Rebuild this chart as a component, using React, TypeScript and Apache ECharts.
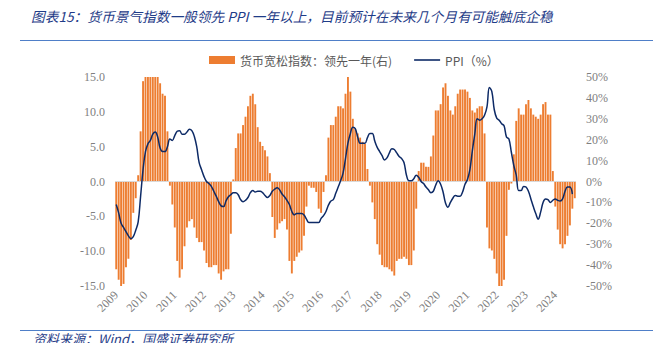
import React, { useEffect, useRef } from "react";
import * as echarts from "echarts";

// PPI YoY (%), 2009-01 .. 2024-08 (left axis)
const PPI: (number | null)[] = [
  -3.3, -4.5, -6.0, -6.6, -7.2, -7.8, -8.2, -7.9, -7.0, -5.8, -2.1, 1.7,
  4.3, 5.4, 5.9, 6.8, 7.1, 6.4, 4.8, 4.3, 4.3, 5.0, 6.1, 5.9,
  6.6, 7.2, 7.3, 6.8, 6.8, 7.1, 7.5, 7.3, 6.5, 5.0, 2.7, 1.7,
  0.7, 0.0, -0.3, -0.7, -1.4, -2.1, -2.9, -3.5, -3.6, -2.8, -2.2, -1.9,
  -1.6, -1.6, -1.9, -2.6, -2.9, -2.7, -2.3, -1.6, -1.3, -1.5, -1.4, -1.4,
  -1.6, -2.0, -2.3, -2.0, -1.4, -1.1, -0.9, -1.2, -1.8, -2.2, -2.7, -3.3,
  -4.3, -4.8, -4.6, -4.6, -4.6, -4.8, -5.4, -5.9, -5.9, -5.9, -5.9, -5.9,
  -5.3, -4.9, -4.3, -3.4, -2.8, -2.6, -1.7, -0.8, 0.1, 1.2, 3.3, 5.5,
  6.9, 7.8, 7.6, 6.4, 5.5, 5.5, 5.5, 6.3, 6.9, 6.9, 5.8, 4.9,
  4.3, 3.7, 3.1, 3.4, 4.1, 4.7, 4.6, 4.1, 3.6, 3.3, 2.7, 0.9,
  0.1, 0.1, 0.4, 0.9, 0.6, 0.0, -0.3, -0.8, -1.2, -1.6, -1.4, -0.5,
  0.1, -0.4, -1.5, -3.1, -3.7, -3.0, -2.4, -2.0, -2.1, -2.1, -1.5, -0.4,
  0.3, 1.7, 4.4, 6.8, 9.0, 8.8, 9.0, 9.5, 10.7, 13.5, 12.9, 10.3,
  9.1, 8.8, 8.3, 8.0, 6.4, 6.1, 4.2, 2.3, 0.9, -1.3, -1.3, -0.7,
  -0.8, -1.4, -2.5, -3.6, -4.6, -5.4, -4.4, -3.0, -2.5, -2.6, -3.0, -2.7,
  -2.5, -2.7, -2.8, -2.5, -1.4, -0.8, -0.8, -1.8,
];

// 货币宽松指数：领先一年 (%), 2009-01 .. 2024-09 (right axis)
const MONEY_INDEX: number[] = [
  -42, -47, -50, -49, -41, -37, -28, -15, -8, 3, 24, 48,
  50, 50, 50, 50, 50, 50, 47, 42, 41, 24, -2, -11,
  -22, -38, -46, -42, -31, -22, -19, -18, -22, -27, -29, -29,
  -33, -39, -41, -41, -40, -40, -44, -47, -43, -42, -42, -25,
  1, 16, 23, 23, 27, 31, 36, 41, 42, 37, 26, 19,
  17, 15, 12, 4, -17, -27, -23, -20, -19, -18, -23, -38,
  -44, -38, -36, -34, -33, -26, -12, -2, -3, -3, -5, -13,
  -15, -5, 3, 21, 27, 27, 31, 36, 36, 35, 42, 50,
  43, 30, 25, 23, 21, 19, 18, 6, -2, -10, -18, -30,
  -35, -40, -41, -41, -42, -43, -45, -38, -37, -37, -36, -37,
  -40, -40, -33, -13, 5, 9, 9, 7, 7, 12, 22, 34,
  34, 37, 45, 47, 41, 34, 32, 36, 42, 44, 44, 44,
  43, 40, 34, 33, 35, 36, 36, 23, -22, -32, -33, -37,
  -44, -50, -50, -47, -26, -4, -1, 13, 29, 35, 32, 32,
  37, 39, 35, 32, 31, 30, 32, 37, 38, 32, 32, 5,
  -12, -23, -30, -32, -30, -26, -21, -13, -8,
];

const START_YEAR = 2009;
const CATEGORIES: string[] = MONEY_INDEX.map((_, i) => {
  const y = START_YEAR + Math.floor(i / 12);
  const m = (i % 12) + 1;
  return `${y}-${m < 10 ? "0" + m : m}`;
});

const LEFT_TICKS = { min: -15, max: 15, interval: 5 };
const RIGHT_TICKS = { min: -50, max: 50, interval: 10 };

const TITLE = "图表15：货币景气指数一般领先 PPI 一年以上，目前预计在未来几个月有可能触底企稳";
const SOURCE = "资料来源：Wind，国盛证券研究所";
const BAR_NAME = "货币宽松指数：领先一年(右)";
const LINE_NAME = "PPI（%）";

export default function App() {
  const ref = useRef<HTMLDivElement>(null);
  useEffect(() => {
    if (!ref.current) return;
    const chart = echarts.init(ref.current, null, { renderer: "svg" });
    const axisFont = {
      color: "#7f7f7f",
      fontSize: 12,
      fontFamily: "Liberation Serif, Times New Roman, serif",
    };
    chart.setOption({
      animation: false,
      backgroundColor: "#ffffff",
      grid: { left: 115, right: 85, top: 77, bottom: 65, containLabel: false },
      legend: {
        left: 204,
        top: 49,
        itemWidth: 26,
        itemHeight: 8,
        itemGap: 22,
        symbolKeepAspect: true,
        textStyle: {
          color: "#595959",
          fontSize: 12,
          fontFamily: "Noto Sans CJK SC, sans-serif",
        },
        data: [
          { name: BAR_NAME, icon: "rect" },
          { name: LINE_NAME, icon: "path://M0,0H26V1.6H0Z" },
        ],
      },
      xAxis: {
        type: "category",
        data: CATEGORIES,
        boundaryGap: true,
        axisLine: { show: false, onZero: false },
        axisTick: { show: false },
        axisLabel: {
          ...axisFont,
          rotate: 45,
          margin: 7,
          interval: (index: number) => index % 12 === 0,
          formatter: (v: string) => v.slice(0, 4),
        },
        splitLine: { show: false },
      },
      yAxis: [
        {
          type: "value",
          ...LEFT_TICKS,
          position: "left",
          axisLine: { show: false },
          axisTick: { show: false },
          splitLine: { show: false },
          axisLabel: {
            ...axisFont,
            margin: 10,
            formatter: (v: number) => v.toFixed(1),
          },
        },
        {
          type: "value",
          ...RIGHT_TICKS,
          position: "right",
          axisLine: { show: false },
          axisTick: { show: false },
          splitLine: { show: false },
          axisLabel: {
            ...axisFont,
            margin: 10,
            formatter: (v: number) => `${v}%`,
          },
        },
      ],
      series: [
        {
          name: BAR_NAME,
          type: "bar",
          yAxisIndex: 1,
          data: MONEY_INDEX,
          barCategoryGap: "22%",
          itemStyle: { color: "#ED7D31" },
          markLine: {
            silent: true,
            symbol: "none",
            label: { show: false },
            lineStyle: { color: "#d9d9d9", width: 1, type: "solid" },
            data: [{ yAxis: 0 }],
          },
        },
        {
          name: LINE_NAME,
          type: "line",
          yAxisIndex: 0,
          data: PPI,
          smooth: 0.4,
          symbol: "none",
          lineStyle: { color: "#0d2a66", width: 1.5 },
          itemStyle: { color: "#0d2a66" },
          z: 5,
        },
      ],
      graphic: [
        {
          type: "text",
          left: 31,
          top: 9,
          style: {
            text: TITLE,
            fill: "#1f3c88",
            fontSize: 13.7,
            fontStyle: "italic",
            fontFamily: "Noto Sans CJK SC, sans-serif",
          },
        },
        {
          type: "line",
          shape: { x1: 20, y1: 40.5, x2: 661, y2: 40.5 },
          style: { stroke: "#4f7fc8", lineWidth: 1.2 },
        },
        {
          type: "line",
          shape: { x1: 20, y1: 330.5, x2: 661, y2: 330.5 },
          style: { stroke: "#4f7fc8", lineWidth: 1.2 },
        },
        {
          type: "text",
          left: 33,
          top: 332,
          style: {
            text: SOURCE,
            fill: "#1f3c88",
            fontSize: 13,
            fontStyle: "italic",
            fontFamily: "Noto Sans CJK SC, sans-serif",
          },
        },
      ],
    });
    return () => chart.dispose();
  }, []);
  return <div ref={ref} style={{ width: 661, height: 351, margin: -8 }} />;
}
